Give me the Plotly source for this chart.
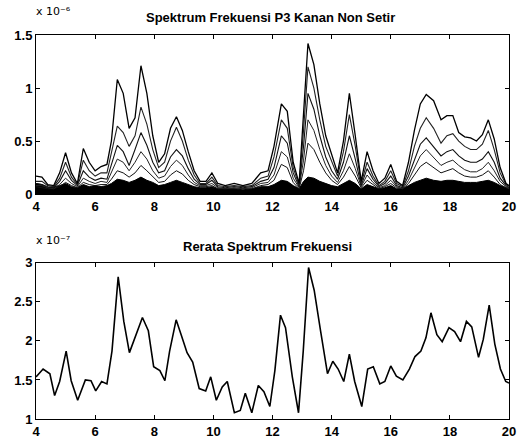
import plotly.graph_objects as go

# ---------------- data ----------------
# top panel: frequency grid (Hz) and several channel spectra (units of 1e-6)
x_top = [4.0, 4.2, 4.4, 4.6, 4.8, 5.0, 5.2, 5.4, 5.6, 5.8, 6.0, 6.2, 6.4, 6.55, 6.75, 6.95,
         7.15, 7.35, 7.55, 7.75, 7.95, 8.15, 8.35, 8.55, 8.75, 8.95, 9.15, 9.35, 9.55, 9.75,
         9.95, 10.15, 10.4, 10.7, 11.0, 11.3, 11.6, 11.85, 12.05, 12.3, 12.5, 12.7, 12.9,
         13.05, 13.2, 13.4, 13.6, 13.8, 14.0, 14.2, 14.4, 14.6, 14.8, 15.0, 15.2, 15.4, 15.6,
         15.8, 16.0, 16.2, 16.4, 16.6, 16.8, 17.0, 17.2, 17.45, 17.7, 17.9, 18.1, 18.3, 18.5,
         18.7, 18.9, 19.1, 19.3, 19.5, 19.7, 19.9, 20.0]

ch1 = [0.17, 0.16, 0.09, 0.08, 0.2, 0.39, 0.2, 0.1, 0.43, 0.3, 0.22, 0.26, 0.28, 0.5, 1.08, 0.95,
       0.62, 0.72, 1.21, 0.95, 0.55, 0.3, 0.38, 0.62, 0.73, 0.6, 0.4, 0.22, 0.12, 0.12,
       0.2, 0.1, 0.08, 0.1, 0.08, 0.1, 0.2, 0.22, 0.45, 0.85, 0.78, 0.3, 0.1,
       0.75, 1.42, 1.22, 0.85, 0.55, 0.38, 0.2, 0.5, 0.95, 0.55, 0.12, 0.4, 0.22, 0.1,
       0.15, 0.28, 0.12, 0.08, 0.3, 0.6, 0.85, 0.94, 0.88, 0.7, 0.74, 0.74, 0.58, 0.54,
       0.53, 0.5, 0.56, 0.7, 0.52, 0.25, 0.1, 0.08]
ch2 = [0.12, 0.12, 0.08, 0.07, 0.15, 0.3, 0.16, 0.09, 0.32, 0.22, 0.17, 0.2, 0.2, 0.38, 0.64, 0.58,
       0.45, 0.55, 0.82, 0.66, 0.42, 0.25, 0.3, 0.5, 0.63, 0.5, 0.32, 0.18, 0.1, 0.1,
       0.16, 0.08, 0.07, 0.08, 0.07, 0.08, 0.15, 0.17, 0.35, 0.7, 0.62, 0.25, 0.08,
       0.6, 1.2, 1.0, 0.7, 0.45, 0.3, 0.17, 0.4, 0.75, 0.45, 0.1, 0.3, 0.17, 0.08,
       0.12, 0.22, 0.1, 0.07, 0.22, 0.45, 0.62, 0.72, 0.62, 0.48, 0.55, 0.57, 0.5, 0.45,
       0.42, 0.42, 0.47, 0.6, 0.42, 0.2, 0.09, 0.07]
ch3 = [0.1, 0.09, 0.07, 0.06, 0.12, 0.22, 0.13, 0.08, 0.22, 0.16, 0.13, 0.15, 0.14, 0.28, 0.46, 0.4,
       0.27, 0.42, 0.58, 0.46, 0.3, 0.2, 0.22, 0.35, 0.42, 0.36, 0.24, 0.14, 0.09, 0.09,
       0.13, 0.07, 0.06, 0.07, 0.06, 0.07, 0.12, 0.14, 0.25, 0.55, 0.48, 0.2, 0.07,
       0.45, 0.95, 0.8, 0.55, 0.35, 0.22, 0.14, 0.3, 0.55, 0.33, 0.08, 0.24, 0.14, 0.07,
       0.1, 0.17, 0.08, 0.06, 0.17, 0.33, 0.47, 0.53, 0.45, 0.36, 0.4, 0.42, 0.36, 0.32,
       0.3, 0.3, 0.33, 0.4, 0.3, 0.15, 0.08, 0.06]
ch4 = [0.08, 0.08, 0.06, 0.05, 0.09, 0.15, 0.1, 0.07, 0.15, 0.12, 0.1, 0.12, 0.11, 0.2, 0.33, 0.3,
       0.22, 0.3, 0.4, 0.33, 0.22, 0.15, 0.17, 0.26, 0.32, 0.27, 0.18, 0.11, 0.08, 0.08,
       0.1, 0.06, 0.05, 0.06, 0.05, 0.06, 0.1, 0.11, 0.18, 0.4, 0.35, 0.15, 0.06,
       0.32, 0.7, 0.6, 0.42, 0.27, 0.17, 0.11, 0.22, 0.38, 0.24, 0.07, 0.18, 0.11, 0.06,
       0.08, 0.13, 0.07, 0.05, 0.13, 0.25, 0.36, 0.42, 0.34, 0.27, 0.3, 0.32, 0.27, 0.23,
       0.21, 0.21, 0.24, 0.3, 0.22, 0.12, 0.07, 0.05]
ch5 = [0.07, 0.06, 0.05, 0.05, 0.07, 0.11, 0.08, 0.06, 0.11, 0.09, 0.08, 0.09, 0.09, 0.14, 0.22, 0.2,
       0.16, 0.2, 0.27, 0.22, 0.16, 0.11, 0.12, 0.18, 0.22, 0.19, 0.13, 0.09, 0.07, 0.07,
       0.08, 0.05, 0.05, 0.05, 0.05, 0.05, 0.08, 0.09, 0.13, 0.28, 0.25, 0.11, 0.05,
       0.22, 0.48, 0.42, 0.3, 0.2, 0.13, 0.09, 0.16, 0.26, 0.17, 0.06, 0.13, 0.09, 0.05,
       0.07, 0.1, 0.06, 0.05, 0.1, 0.18, 0.26, 0.3, 0.25, 0.2, 0.22, 0.24, 0.2, 0.17,
       0.16, 0.16, 0.18, 0.22, 0.16, 0.09, 0.06, 0.05]
band = [0.1, 0.09, 0.06, 0.07, 0.08, 0.1, 0.07, 0.06, 0.09, 0.07, 0.08, 0.07, 0.08, 0.1, 0.14, 0.13,
        0.11, 0.13, 0.16, 0.13, 0.11, 0.08, 0.09, 0.11, 0.13, 0.11, 0.09, 0.07, 0.06, 0.06,
        0.07, 0.05, 0.05, 0.05, 0.04, 0.05, 0.07, 0.07, 0.09, 0.13, 0.12, 0.08, 0.05,
        0.12, 0.16, 0.15, 0.12, 0.1, 0.08, 0.07, 0.1, 0.13, 0.1, 0.05, 0.09, 0.07, 0.05,
        0.06, 0.08, 0.05, 0.05, 0.08, 0.11, 0.13, 0.15, 0.13, 0.12, 0.13, 0.13, 0.12, 0.11,
        0.11, 0.11, 0.12, 0.13, 0.11, 0.08, 0.06, 0.05]

# bottom panel: mean spectrum (units of 1e-7)
x_mean = [4.0, 4.24, 4.47, 4.63, 4.8, 5.02, 5.19, 5.41, 5.67, 5.86, 6.02, 6.22, 6.4, 6.57, 6.78,
          6.97, 7.16, 7.36, 7.6, 7.8, 7.98, 8.19, 8.36, 8.52, 8.74, 8.91, 9.11, 9.3, 9.52, 9.74,
          9.91, 10.1, 10.3, 10.47, 10.71, 10.91, 11.08, 11.3, 11.52, 11.71, 11.91, 12.08, 12.27,
          12.44, 12.67, 12.88, 13.04, 13.22, 13.41, 13.63, 13.86, 14.04, 14.22, 14.41, 14.6,
          14.78, 15.02, 15.22, 15.41, 15.63, 15.8, 16.0, 16.19, 16.41, 16.63, 16.82, 17.02,
          17.19, 17.36, 17.56, 17.74, 17.97, 18.16, 18.36, 18.56, 18.74, 18.97, 19.13, 19.33,
          19.52, 19.71, 19.89, 20.0]
y_mean = [1.54, 1.64, 1.58, 1.30, 1.48, 1.87, 1.49, 1.24, 1.50, 1.49, 1.36, 1.48, 1.45, 1.87, 2.82,
          2.25, 1.85, 2.06, 2.30, 2.13, 1.67, 1.62, 1.49, 1.87, 2.27, 2.08, 1.85, 1.73, 1.39, 1.36,
          1.54, 1.24, 1.41, 1.48, 1.08, 1.11, 1.33, 1.08, 1.43, 1.35, 1.16, 1.62, 2.33,
          2.17, 1.54, 1.08, 1.87, 2.94, 2.65, 2.12, 1.58, 1.74, 1.64, 1.48, 1.83,
          1.48, 1.16, 1.64, 1.67, 1.45, 1.48, 1.68, 1.55, 1.50, 1.64, 1.80, 1.87,
          2.04, 2.36, 2.08, 1.99, 2.17, 2.12, 1.99, 2.25, 2.18, 1.79, 2.02, 2.46,
          1.96, 1.64, 1.48, 1.46]

x_ticks = [4, 6, 8, 10, 12, 14, 16, 18, 20]
top_ticks = [0, 0.5, 1, 1.5]
top_ticktext = ["0", "0.5", "1", "1.5"]
bot_ticks = [1, 1.5, 2, 2.5, 3]
bot_ticktext = ["1", "1.5", "2", "2.5", "3"]

title_top = "Spektrum Frekuensi P3 Kanan Non Setir"
title_bot = "Rerata Spektrum Frekuensi"
scale_top = "x 10⁻⁶"
scale_bot = "x 10⁻⁷"

# ---------------- figure ----------------
FONT = "Liberation Sans"
fig = go.Figure()

fig.add_trace(go.Scatter(x=x_top, y=band, mode="lines", fill="tozeroy",
                         fillcolor="black", line=dict(color="black", width=1),
                         xaxis="x", yaxis="y", showlegend=False))
for ch, col, w in [(ch5, "#111", 1.0), (ch4, "#222", 1.0), (ch3, "#111", 1.1),
                   (ch2, "#222", 1.1), (ch1, "black", 1.3)]:
    fig.add_trace(go.Scatter(x=x_top, y=ch, mode="lines",
                             line=dict(color=col, width=w),
                             xaxis="x", yaxis="y", showlegend=False))

fig.add_trace(go.Scatter(x=x_mean, y=y_mean, mode="lines",
                         line=dict(color="black", width=1.6),
                         xaxis="x2", yaxis="y2", showlegend=False))

axis_common = dict(showline=True, linecolor="black", linewidth=1, mirror="ticks",
                   ticks="inside", ticklen=4, tickcolor="black", showgrid=False,
                   zeroline=False,
                   tickfont=dict(family=FONT, size=13, color="black", weight="bold"))

fig.update_layout(
    width=525, height=448,
    margin=dict(l=36, r=9, t=35, b=22),
    paper_bgcolor="white", plot_bgcolor="white",
    xaxis=dict(domain=[0, 1], range=[4, 20], tickvals=x_ticks, anchor="y", **axis_common),
    yaxis=dict(domain=[0.5857, 1], range=[0, 1.5], tickvals=top_ticks,
               ticktext=top_ticktext, anchor="x", **axis_common),
    xaxis2=dict(domain=[0, 1], range=[4, 20], tickvals=x_ticks, anchor="y2", **axis_common),
    yaxis2=dict(domain=[0, 0.4066], range=[1, 3], tickvals=bot_ticks,
                ticktext=bot_ticktext, anchor="x2", **axis_common),
    annotations=[
        dict(text=title_top, x=0.496, y=1.046, xref="paper", yref="paper",
             showarrow=False, xanchor="center", yanchor="middle",
             font=dict(family=FONT, size=13, color="black", weight="bold")),
        dict(text=title_bot, x=0.49, y=0.450, xref="paper", yref="paper",
             showarrow=False, xanchor="center", yanchor="middle",
             font=dict(family=FONT, size=13, color="black", weight="bold")),
        dict(text=scale_top, x=-0.004, y=1.06, xref="paper", yref="paper",
             showarrow=False, xanchor="left", yanchor="middle",
             font=dict(family="DejaVu Sans", size=11, color="black")),
        dict(text=scale_bot, x=-0.004, y=0.466, xref="paper", yref="paper",
             showarrow=False, xanchor="left", yanchor="middle",
             font=dict(family="DejaVu Sans", size=11, color="black")),
    ],
)

fig.write_html("out.html")
